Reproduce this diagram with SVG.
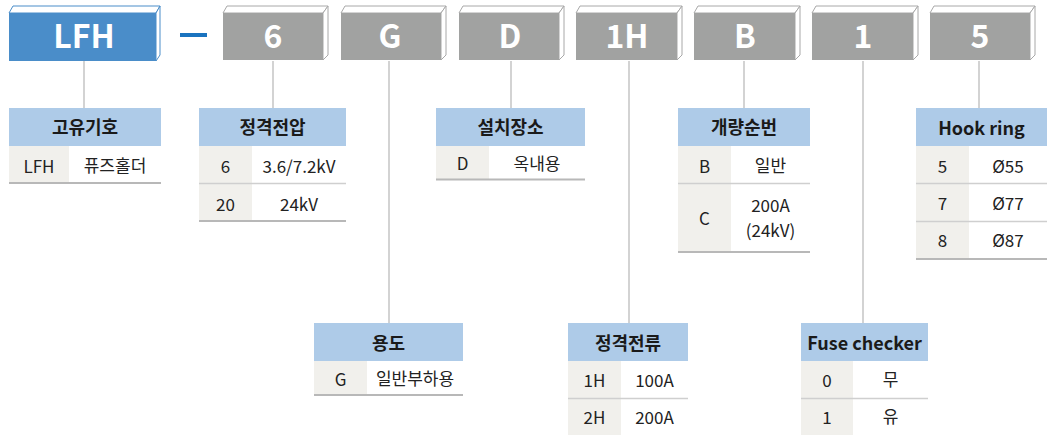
<svg xmlns="http://www.w3.org/2000/svg" width="1056" height="435" viewBox="0 0 1056 435">
<style>
.bf{fill:#4a8dc9}
.gf{fill:#a1a2a1}
.bev{fill:#ffffff;stroke-width:1}
.bevb{stroke:#4a8dc9}
.bevg{stroke:#a8a8a8}
.bt{font-family:"Noto Sans CJK KR","Noto Sans",sans-serif;font-size:32px;font-weight:bold;fill:#ffffff;text-anchor:middle}
.hd{fill:#aecbe8}
.kc{fill:#f1f0ec}
.vc{fill:#ffffff}
.ht{font-family:"Noto Sans CJK KR","Noto Sans",sans-serif;font-size:18px;font-weight:bold;fill:#1a1a1a;text-anchor:middle}
.rt{font-family:"Noto Sans CJK KR","Noto Sans",sans-serif;font-size:17px;fill:#222222;text-anchor:middle}
.sep{stroke:#cfcfcf;stroke-width:1.5}
.bot{stroke:#b8b8b8;stroke-width:2}
.con{stroke:#c4c4c4;stroke-width:1.5;fill:none}
</style>

<g id="connectors">
<line class="con" x1="84" y1="61" x2="84" y2="108"/>
<line class="con" x1="273" y1="61" x2="273" y2="108"/>
<line class="con" x1="389" y1="61" x2="389" y2="323"/>
<line class="con" x1="511" y1="61" x2="511" y2="108"/>
<line class="con" x1="629" y1="61" x2="629" y2="323"/>
<line class="con" x1="744" y1="61" x2="744" y2="108"/>
<line class="con" x1="863" y1="61" x2="863" y2="323"/>
<line class="con" x1="979" y1="61" x2="979" y2="108"/>
</g>

<g id="box-LFH">
<polygon class="bev bevb" points="9,13 13,6 160,6 156,13"/>
<polygon class="bev bevb" points="156,13 160,6 160,55 156,61"/>
<rect class="bf" x="9" y="13" width="147" height="48"/>
<text class="bt" x="84" y="47.5">LFH</text>
</g>
<g id="dash"><rect x="180" y="33" width="27" height="4" fill="#1a73bf"/></g>

<g id="box-6">
<polygon class="bev bevg" points="223,13 227,6 328,6 323,13"/>
<polygon class="bev bevg" points="323,13 328,6 328,55 323,60"/>
<rect class="gf" x="223" y="13" width="100" height="47"/>
<text class="bt" x="273" y="47.5">6</text>
</g>
<g id="box-G">
<polygon class="bev bevg" points="341,13 345,6 446,6 441,13"/>
<polygon class="bev bevg" points="441,13 446,6 446,55 441,60"/>
<rect class="gf" x="341" y="13" width="100" height="47"/>
<text class="bt" x="390" y="47.5">G</text>
</g>
<g id="box-D">
<polygon class="bev bevg" points="459,13 463,6 564,6 559,13"/>
<polygon class="bev bevg" points="559,13 564,6 564,55 559,60"/>
<rect class="gf" x="459" y="13" width="100" height="47"/>
<text class="bt" x="510" y="47.5">D</text>
</g>
<g id="box-1H">
<polygon class="bev bevg" points="576,13 580,6 682,6 677,13"/>
<polygon class="bev bevg" points="677,13 682,6 682,55 677,60"/>
<rect class="gf" x="576" y="13" width="101" height="47"/>
<text class="bt" x="627" y="47.5">1H</text>
</g>
<g id="box-B">
<polygon class="bev bevg" points="694,13 698,6 800,6 795,13"/>
<polygon class="bev bevg" points="795,13 800,6 800,55 795,60"/>
<rect class="gf" x="694" y="13" width="101" height="47"/>
<text class="bt" x="745" y="47.5">B</text>
</g>
<g id="box-1">
<polygon class="bev bevg" points="812,13 816,6 918,6 913,13"/>
<polygon class="bev bevg" points="913,13 918,6 918,55 913,60"/>
<rect class="gf" x="812" y="13" width="101" height="47"/>
<text class="bt" x="863" y="47.5">1</text>
</g>
<g id="box-5">
<polygon class="bev bevg" points="930,13 934,6 1035,6 1030,13"/>
<polygon class="bev bevg" points="1030,13 1035,6 1035,55 1030,60"/>
<rect class="gf" x="930" y="13" width="100" height="47"/>
<text class="bt" x="980" y="47.5">5</text>
</g>

<g id="table-code">
<rect class="hd" x="9" y="108" width="152" height="38"/>
<text class="ht" x="85" y="134">고유기호</text>
<rect class="kc" x="9" y="146" width="60" height="37"/>
<rect class="vc" x="69" y="146" width="92" height="37"/>
<text class="rt" x="39" y="173">LFH</text>
<text class="rt" x="115" y="172">퓨즈홀더</text>
<line class="bot" x1="9" y1="183" x2="161" y2="183"/>
</g>

<g id="table-voltage">
<rect class="hd" x="199" y="108" width="147" height="38"/>
<text class="ht" x="272.5" y="134">정격전압</text>
<rect class="kc" x="199" y="146" width="53" height="75"/>
<text class="rt" x="225.5" y="173">6</text>
<text class="rt" x="299" y="173">3.6/7.2kV</text>
<line class="sep" x1="199" y1="183.5" x2="346" y2="183.5"/>
<text class="rt" x="225.5" y="210.5">20</text>
<text class="rt" x="299" y="210.5">24kV</text>
<line class="bot" x1="199" y1="221" x2="346" y2="221"/>
</g>

<g id="table-usage">
<rect class="hd" x="314" y="323" width="149" height="38"/>
<text class="ht" x="388.5" y="349.5">용도</text>
<rect class="kc" x="314" y="361" width="53" height="34"/>
<text class="rt" x="340.5" y="385.5">G</text>
<text class="rt" x="415" y="385">일반부하용</text>
<line class="bot" x1="314" y1="395" x2="463" y2="395"/>
</g>

<g id="table-location">
<rect class="hd" x="436" y="108" width="149" height="38"/>
<text class="ht" x="510.5" y="134">설치장소</text>
<rect class="kc" x="436" y="146" width="53" height="33"/>
<text class="rt" x="462.5" y="170">D</text>
<text class="rt" x="537" y="169.5">옥내용</text>
<line class="bot" x1="436" y1="179.5" x2="585" y2="179.5"/>
</g>

<g id="table-current">
<rect class="hd" x="568" y="323" width="120" height="38"/>
<text class="ht" x="628" y="349.5">정격전류</text>
<rect class="kc" x="568" y="361" width="53" height="74"/>
<text class="rt" x="594.5" y="387">1H</text>
<text class="rt" x="654.5" y="387">100A</text>
<line class="sep" x1="568" y1="398.5" x2="688" y2="398.5"/>
<text class="rt" x="594.5" y="424">2H</text>
<text class="rt" x="654.5" y="424">200A</text>
</g>

<g id="table-revision">
<rect class="hd" x="678" y="108" width="132" height="38"/>
<text class="ht" x="744" y="134">개량순번</text>
<rect class="kc" x="678" y="146" width="53" height="106"/>
<text class="rt" x="704.5" y="173">B</text>
<text class="rt" x="770.5" y="172">일반</text>
<line class="sep" x1="678" y1="183.5" x2="810" y2="183.5"/>
<text class="rt" x="704.5" y="225">C</text>
<text class="rt" x="770.5" y="211.5">200A</text>
<text class="rt" x="770.5" y="236.5">(24kV)</text>
<line class="bot" x1="678" y1="252" x2="810" y2="252"/>
</g>

<g id="table-fuse">
<rect class="hd" x="801" y="323" width="127" height="38"/>
<text class="ht" x="864.5" y="350">Fuse checker</text>
<rect class="kc" x="801" y="361" width="52" height="74"/>
<text class="rt" x="827" y="387">0</text>
<text class="rt" x="890.5" y="386">무</text>
<line class="sep" x1="801" y1="398.5" x2="928" y2="398.5"/>
<text class="rt" x="827" y="424">1</text>
<text class="rt" x="890.5" y="423">유</text>
</g>

<g id="table-hook">
<rect class="hd" x="916" y="108" width="131" height="38"/>
<text class="ht" x="981.5" y="135">Hook ring</text>
<rect class="kc" x="916" y="146" width="53" height="113"/>
<text class="rt" x="942.5" y="172.5">5</text>
<text class="rt" x="1008" y="172.5">Ø55</text>
<line class="sep" x1="916" y1="183.5" x2="1047" y2="183.5"/>
<text class="rt" x="942.5" y="210">7</text>
<text class="rt" x="1008" y="210">Ø77</text>
<line class="sep" x1="916" y1="221.5" x2="1047" y2="221.5"/>
<text class="rt" x="942.5" y="246.5">8</text>
<text class="rt" x="1008" y="246.5">Ø87</text>
<line class="bot" x1="916" y1="259" x2="1047" y2="259"/>
</g>
</svg>
